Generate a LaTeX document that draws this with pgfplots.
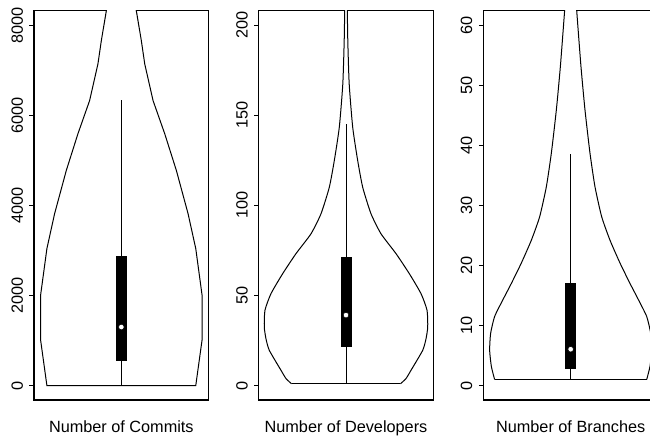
\documentclass[border=0pt]{standalone}
\usepackage{pgfplots}
\pgfplotsset{compat=1.18}
\usepackage{fontspec}
\setmainfont{Liberation Sans}

% violin outlines: value, half width (in panel x units)
\pgfplotsset{
  vpanel/.style={
    scale only axis, width=131pt, height=292pt,
    anchor=south west,
    xmin=-87.3, xmax=87.3,
    xtick=\empty,
    ytick pos=left,
    tick align=outside,
    major tick length=3.4pt,
    axis line style={line width=0.8pt},
    every tick/.style={black, line width=0.8pt},
    yticklabel style={rotate=90, anchor=south, inner sep=0pt,
      font=\fontsize{12.2}{14}\selectfont},
    yticklabel shift=4.6pt,
    /pgf/number format/assume math mode=true,
    /pgf/number format/1000 sep={},
    scaled y ticks=false,
    xlabel style={at={(axis description cs:0.5,0)}, anchor=base, yshift=-24pt,
      font=\fontsize{12.2}{14}\selectfont},
  },
  violin/.style={black, line width=0.75pt},
  vfill/.style={fill=white, draw=none},
  whisker/.style={black, line width=0.75pt},
  qbox/.style={fill=black, draw=none},
  med/.style={only marks, mark=*, mark size=2.1pt, mark options={fill=white, draw=none}},
}

\begin{document}
\begin{tikzpicture}
\useasboundingbox (0,0) rectangle (487.5pt,332.25pt);
\clip (0,0) rectangle (487.5pt,332.25pt);

% ---- Number of Commits ----
\begin{axis}[vpanel, at={(25.5pt,32.25pt)},
  ymin=-320, ymax=8320, ytick={0,2000,4000,6000,8000},
  xlabel={Number of Commits}]
\addplot[vfill] coordinates {
  (-74.4,0) (-80.7,1011) (-80.7,2007) (-74.4,3040) (-66.7,3815) (-55,4775)
  (-43.4,5587) (-31.7,6325) (-23.4,7137) (-20,7653) (-15,8317) (-13.5,8500)
  (13.5,8500) (15,8317) (20,7653) (23.4,7137) (31.7,6325) (43.4,5587)
  (55,4775) (66.7,3815) (74.4,3040) (80.7,2007) (80.7,1011) (74.4,0)} -- cycle;
\addplot[violin] coordinates {
  (-13.5,8500) (-15,8317) (-20,7653) (-23.4,7137) (-31.7,6325) (-43.4,5587)
  (-55,4775) (-66.7,3815) (-74.4,3040) (-80.7,2007) (-80.7,1011) (-74.4,0)
  (74.4,0) (80.7,1011) (80.7,2007) (74.4,3040) (66.7,3815) (55,4775)
  (43.4,5587) (31.7,6325) (23.4,7137) (20,7653) (15,8317) (13.5,8500)};
\addplot[whisker] coordinates {(0,0) (0,6347)};
\addplot[qbox] coordinates {(-5.5,553) (5.5,553) (5.5,2878) (-5.5,2878)} -- cycle;
\addplot[med] coordinates {(0,1299)};
\end{axis}

% ---- Number of Developers ----
\begin{axis}[vpanel, at={(194pt,32.25pt)},
  ymin=-8, ymax=208, ytick={0,50,100,150,200},
  xlabel={Number of Developers}]
\addplot[vfill] coordinates {
  (-54.4,1) (-60,3.9) (-65,8.5) (-76.7,19.6) (-80,26) (-81.7,32.5) (-81,41.8)
  (-75,51) (-63.4,62) (-50,73.2) (-35,84.2) (-25,95.3) (-16.7,110)
  (-11.7,124.8) (-6.7,143.3) (-3.2,167.3) (-1.8,191.3) (-1.2,212)
  (1.2,212) (1.8,191.3) (3.2,167.3) (6.7,143.3) (11.7,124.8) (16.7,110)
  (25,95.3) (35,84.2) (50,73.2) (63.4,62) (75,51) (81,41.8) (81.7,32.5)
  (80,26) (76.7,19.6) (65,8.5) (60,3.9) (54.4,1)} -- cycle;
\addplot[violin, smooth, tension=0.35] coordinates {
  (-1.2,212) (-1.8,191.3) (-3.2,167.3) (-6.7,143.3) (-11.7,124.8) (-16.7,110)
  (-25,95.3) (-35,84.2) (-50,73.2) (-63.4,62) (-75,51) (-81,41.8)
  (-81.7,32.5) (-80,26) (-76.7,19.6) (-65,8.5) (-60,3.9) (-54.4,1)};
\addplot[violin, smooth, tension=0.35] coordinates {
  (1.2,212) (1.8,191.3) (3.2,167.3) (6.7,143.3) (11.7,124.8) (16.7,110)
  (25,95.3) (35,84.2) (50,73.2) (63.4,62) (75,51) (81,41.8)
  (81.7,32.5) (80,26) (76.7,19.6) (65,8.5) (60,3.9) (54.4,1)};
\addplot[violin] coordinates {(-54.4,1) (54.4,1)};
\addplot[whisker] coordinates {(0,1) (0,145.2)};
\addplot[qbox] coordinates {(-5.5,21.6) (5.5,21.6) (5.5,71.2) (-5.5,71.2)} -- cycle;
\addplot[med] coordinates {(0,39.1)};
\end{axis}

% ---- Number of Branches ----
\begin{axis}[vpanel, at={(362.5pt,32.25pt)},
  ymin=-2.4, ymax=62.4, ytick={0,10,20,30,40,50,60},
  xlabel={Number of Branches}]
\addplot[vfill] coordinates {
  (-76,1) (-79.3,3.2) (-81,5.9) (-80,8.7) (-76,11.5) (-67.7,14.3) (-59.3,17)
  (-49.3,20.4) (-39.3,24.2) (-31,28.1) (-24.3,33.1) (-19.3,38.7)
  (-14.3,45.9) (-10.3,53.1) (-6,62.5) (-5.6,64)
  (5.6,64) (6,62.5) (10.3,53.1) (14.3,45.9) (19.3,38.7) (24.3,33.1)
  (31,28.1) (39.3,24.2) (49.3,20.4) (59.3,17) (67.7,14.3) (76,11.5)
  (80,8.7) (81,5.9) (79.3,3.2) (76,1)} -- cycle;
\addplot[violin, smooth, tension=0.35] coordinates {
  (-5.6,64) (-6,62.5) (-10.3,53.1) (-14.3,45.9) (-19.3,38.7) (-24.3,33.1)
  (-31,28.1) (-39.3,24.2) (-49.3,20.4) (-59.3,17) (-67.7,14.3) (-76,11.5)
  (-80,8.7) (-81,5.9) (-79.3,3.2) (-76,1)};
\addplot[violin, smooth, tension=0.35] coordinates {
  (5.6,64) (6,62.5) (10.3,53.1) (14.3,45.9) (19.3,38.7) (24.3,33.1)
  (31,28.1) (39.3,24.2) (49.3,20.4) (59.3,17) (67.7,14.3) (76,11.5)
  (80,8.7) (81,5.9) (79.3,3.2) (76,1)};
\addplot[violin] coordinates {(-76,1) (76,1)};
\addplot[whisker] coordinates {(0,1) (0,38.5)};
\addplot[qbox] coordinates {(-5.5,2.8) (5.5,2.8) (5.5,17) (-5.5,17)} -- cycle;
\addplot[med] coordinates {(0,6.05)};
\end{axis}
\end{tikzpicture}
\end{document}
